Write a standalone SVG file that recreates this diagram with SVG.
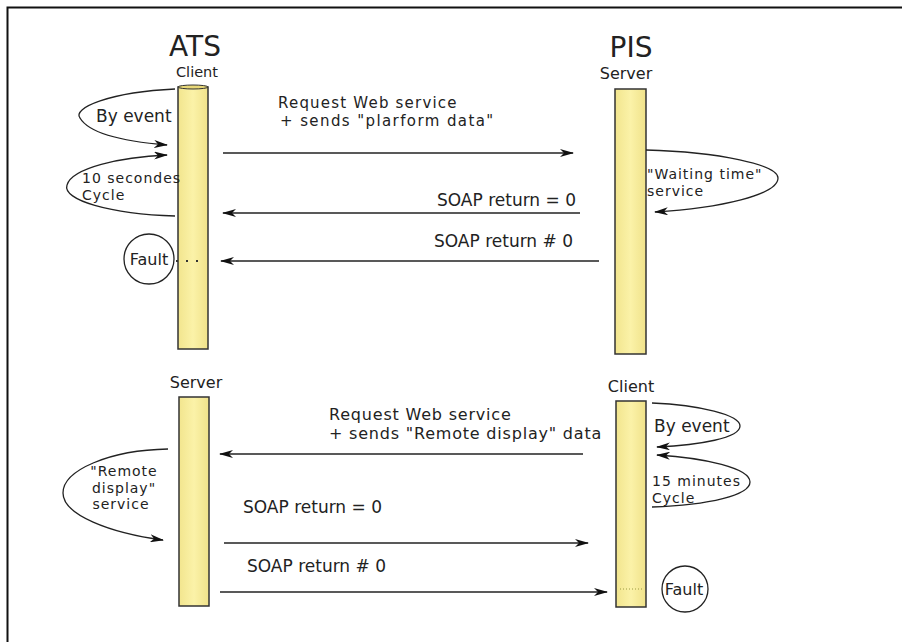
<svg xmlns="http://www.w3.org/2000/svg" width="902" height="642" viewBox="0 0 902 642">
<defs>
  <linearGradient id="bar" x1="0" y1="0" x2="1" y2="0">
    <stop offset="0" stop-color="#f2e58e"/>
    <stop offset="0.5" stop-color="#fbf2a8"/>
    <stop offset="1" stop-color="#f0e28a"/>
  </linearGradient>
  <marker id="ah" viewBox="0 0 14 8" refX="13" refY="4" markerWidth="14" markerHeight="8" markerUnits="userSpaceOnUse" orient="auto">
    <path d="M0,0 L14,4 L0,8 L4,4 Z" fill="#111"/>
  </marker>
</defs>
<style>
  .t{font-family:"DejaVu Sans","Liberation Sans",sans-serif;fill:#222;font-size:16px}
  .l{font-size:17px}
  .m{font-size:14px;letter-spacing:1px}
  .r1{font-size:15px;letter-spacing:1.2px}
  .r2{font-size:15px;letter-spacing:1.4px}
  .rb{font-size:16px;letter-spacing:0.8px}
  .big{font-size:28px}
  .sm{font-size:14.5px}
  .bar{fill:url(#bar);stroke:#333;stroke-width:1.5}
  .arr{fill:none;stroke:#222;stroke-width:1.3;marker-end:url(#ah)}
</style>
<rect width="902" height="642" fill="#fff"/>
<path d="M902,7.5 H7.5 V642" fill="none" stroke="#111" stroke-width="2"/>

<g id="ats">
  <text class="t big" x="195" y="56" text-anchor="middle">ATS</text>
  <text class="t sm" x="197" y="77" text-anchor="middle">Client</text>
  <rect class="bar" x="178" y="87" width="30" height="262"/>
  <ellipse cx="193" cy="87" rx="15" ry="2" fill="#e8d878" stroke="#333" stroke-width="1"/>
</g>
<g id="pis">
  <text class="t big" x="631" y="57" text-anchor="middle">PIS</text>
  <text class="t" x="626" y="79" text-anchor="middle">Server</text>
  <rect class="bar" x="615" y="89" width="31" height="265"/>
</g>
<g id="ats-server">
  <text class="t" x="196" y="388" text-anchor="middle">Server</text>
  <rect class="bar" x="179" y="397" width="30" height="209"/>
</g>
<g id="pis-client">
  <text class="t" x="631" y="392" text-anchor="middle">Client</text>
  <rect class="bar" x="616" y="401" width="30" height="206"/>
</g>

<g id="loop-by-event-ats">
  <path class="arr" d="M175,89 C110,92 72,108 80,118 C90,135 130,142 167,145"/>
  <text class="t l" x="96" y="122">By event</text>
</g>
<g id="loop-10s">
  <path class="arr" d="M175,216 C110,214 62,200 67,185 C72,168 120,157 167,155"/>
  <text class="t m" x="82" y="183">10 secondes</text>
  <text class="t m" x="82" y="199.5">Cycle</text>
</g>
<g id="fault-ats">
  <circle cx="149" cy="259" r="25" fill="#fff" stroke="#222" stroke-width="1.3"/>
  <text class="t" x="149" y="265" text-anchor="middle">Fault</text>
</g>
<g id="loop-waiting">
  <path class="arr" d="M646,150 C720,152 778,165 778,178 C778,195 720,208 655,212"/>
  <text class="t m" x="647" y="179">"Waiting time"</text>
  <text class="t m" x="647" y="195.5">service</text>
</g>
<g id="loop-remote">
  <path class="arr" d="M168,449 C110,450 63,470 63,493 C63,515 110,533 163,540"/>
  <text class="t m" x="124" y="476" text-anchor="middle">"Remote</text>
  <text class="t m" x="124" y="492.5" text-anchor="middle">display"</text>
  <text class="t m" x="121" y="509" text-anchor="middle">service</text>
</g>
<g id="loop-by-event-pis">
  <path class="arr" d="M652,403 C700,405 740,415 740,426 C740,438 700,445 657,447"/>
  <text class="t l" x="654" y="432">By event</text>
</g>
<g id="loop-15m">
  <path class="arr" d="M652,507 C710,505 750,495 750,482 C750,468 705,458 657,455"/>
  <text class="t m" x="652" y="486">15 minutes</text>
  <text class="t m" x="652" y="502.5">Cycle</text>
</g>
<g id="fault-pis">
  <circle cx="685" cy="589" r="23" fill="#fff" stroke="#222" stroke-width="1.3"/>
  <text class="t" x="684" y="595" text-anchor="middle">Fault</text>
</g>

<g id="connectors">
  <line class="arr" x1="223" y1="153" x2="573" y2="153"/>
  <text class="t r1" x="278" y="108">Request Web service</text>
  <text class="t r2" x="280" y="126">+ sends "plarform data"</text>

  <line class="arr" x1="580" y1="213" x2="223" y2="213"/>
  <text class="t l" x="576" y="206" text-anchor="end">SOAP return = 0</text>

  <line class="arr" x1="599" y1="261" x2="221" y2="261"/>
  <text class="t l" x="573" y="247" text-anchor="end">SOAP return # 0</text>
  <line x1="176" y1="261" x2="206" y2="261" stroke="#333" stroke-width="2" stroke-dasharray="2,8"/>

  <line class="arr" x1="583" y1="454" x2="220" y2="454"/>
  <text class="t rb" x="329" y="420">Request Web service</text>
  <text class="t rb" x="329" y="439">+ sends "Remote display" data</text>

  <line class="arr" x1="224" y1="543" x2="588" y2="543"/>
  <text class="t l" x="243" y="513">SOAP return = 0</text>

  <line class="arr" x1="220" y1="592" x2="607" y2="592"/>
  <text class="t l" x="247" y="572">SOAP return # 0</text>
  <line x1="620" y1="589" x2="643" y2="589" stroke="#9a9a40" stroke-width="1" stroke-dasharray="1,2"/>
</g>
</svg>
